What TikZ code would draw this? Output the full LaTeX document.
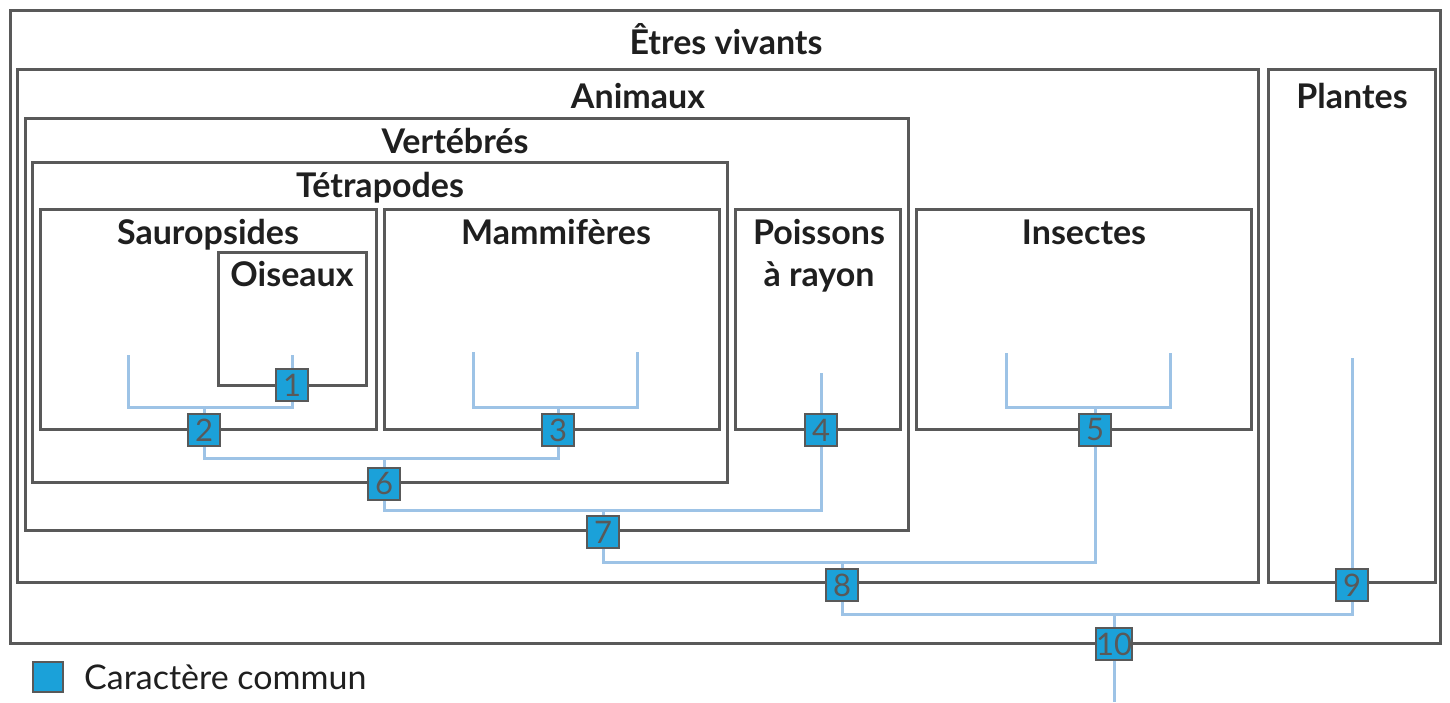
\documentclass[tikz,border=0pt]{standalone}
\usepackage{fontspec}
\setmainfont{Lato}
\usepackage{tikz}
\definecolor{boxgrey}{HTML}{595959}
\definecolor{treeblue}{HTML}{9DC3E6}
\definecolor{markblue}{HTML}{1BA1D9}
\tikzset{groupbox/.style={draw=boxgrey, line width=3pt}}
\tikzset{branch/.style={draw=treeblue, line width=3pt}}
\tikzset{grouptitle/.style={anchor=base, inner sep=0pt, align=center,
    text=black!88, font=\bfseries\fontsize{34}{42}\selectfont}}
\tikzset{trait/.style={draw=boxgrey, line width=2pt, fill=markblue,
    minimum size=32pt, inner sep=0pt, text=boxgrey,
    font=\fontsize{31}{31}\selectfont}}

\begin{document}
\begin{tikzpicture}[x=1pt,y=-1pt]
\useasboundingbox (0,0) rectangle (1450,702);

% groups
\draw[groupbox] (10,10) rectangle (1440,643);
\draw[groupbox] (17,69) rectangle (1258,582);
\draw[groupbox] (1268,69) rectangle (1435,582);
\draw[groupbox] (25,118) rectangle (908,530);
\draw[groupbox] (32,162) rectangle (727,482);
\draw[groupbox] (40,209) rectangle (376,429);
\draw[groupbox] (218,252) rectangle (366,385);
\draw[groupbox] (384,209) rectangle (719,429);
\draw[groupbox] (735,209) rectangle (900,429);
\draw[groupbox] (916,209) rectangle (1251,429);

\node[grouptitle] (vivants) at (726,54) {Êtres vivants};
\node[grouptitle] (animaux) at (638,108) {Animaux};
\node[grouptitle] (plantes) at (1352,108) {Plantes};
\node[grouptitle] (vertebres) at (455,153) {Vertébrés};
\node[grouptitle] (tetrapodes) at (380,197) {Tétrapodes};
\node[grouptitle] (sauropsides) at (208,244) {Sauropsides};
\node[grouptitle] (oiseaux) at (292,286) {Oiseaux};
\node[grouptitle] (mammiferes) at (556,244) {Mammifères};
\node[grouptitle] (poissons) at (819,286) {Poissons\\à rayon};
\node[grouptitle] (insectes) at (1084,244) {Insectes};

% common traits
\node[trait] (m1) at (292,385) {1};
\node[trait] (m2) at (204,430) {2};
\node[trait] (m3) at (558,430) {3};
\node[trait] (m4) at (821,430) {4};
\node[trait] (m5) at (1095,430) {5};
\node[trait] (m6) at (384,484) {6};
\node[trait] (m7) at (603,532) {7};
\node[trait] (m8) at (842,585) {8};
\node[trait] (m9) at (1352,585) {9};
\node[trait] (m10) at (1114,644) {10};

% leaves and forks
\coordinate (sau) at (128,355);
\coordinate (ois) at (292,355);
\coordinate (mam1) at (473,352);
\coordinate (mam2) at (637,352);
\coordinate (poi) at (821,373);
\coordinate (ins1) at (1006,353);
\coordinate (ins2) at (1170,353);
\coordinate (pla) at (1352,358);
\coordinate (root) at (1114,702);
\coordinate (f2) at (204,407);
\coordinate (f3) at (558,407);
\coordinate (f5) at (1095,407);
\coordinate (f6) at (384,458);
\coordinate (f7) at (603,510);
\coordinate (f8) at (842,562);
\coordinate (f10) at (1114,614);

\draw[branch] (ois) -- (m1);
\draw[branch] (m1) |- (f2) -| (sau);
\draw[branch] (f2) -- (m2);
\draw[branch] (mam1) |- (f3) -| (mam2);
\draw[branch] (f3) -- (m3);
\draw[branch] (poi) -- (m4);
\draw[branch] (ins1) |- (f5) -| (ins2);
\draw[branch] (f5) -- (m5);
\draw[branch] (pla) -- (m9);
\draw[branch] (m2) |- (f6) -| (m3);
\draw[branch] (f6) -- (m6);
\draw[branch] (m6) |- (f7) -| (m4);
\draw[branch] (f7) -- (m7);
\draw[branch] (m7) |- (f8) -| (m5);
\draw[branch] (f8) -- (m8);
\draw[branch] (m8) |- (f10) -| (m9);
\draw[branch] (f10) -- (m10);
\draw[branch] (m10) -- (root);

% legend
\node[trait, minimum size=30pt] (legbox) at (48,677) {};
\node[anchor=base west, inner sep=0pt, text=black!88,
  font=\fontsize{34}{34}\selectfont] (legtext) at (84,689) {Caractère commun};
\end{tikzpicture}
\end{document}
